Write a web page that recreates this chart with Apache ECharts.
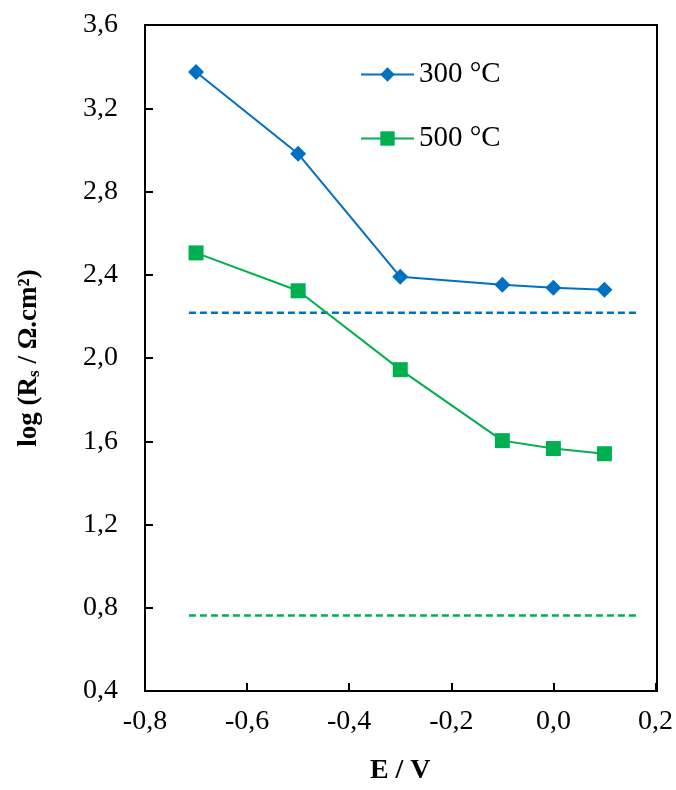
<!DOCTYPE html>
<html><head><meta charset="utf-8">
<script src="https://cdn.jsdelivr.net/npm/echarts@6/dist/echarts.min.js"></script>
<style>html,body{margin:0;padding:0;background:#fff}#c{width:676px;height:790px}</style>
</head><body><div id="c"></div>
<script>
const potentials = [-0.7, -0.5, -0.3, -0.1, 0.0, 0.1];
const logRs300 = [3.374, 2.981, 2.39, 2.352, 2.337, 2.328];
const logRs500 = [2.505, 2.323, 1.944, 1.603, 1.565, 1.540];
const refX = [-0.714, 0.163];
const ref300 = [2.217, 2.217];
const ref500 = [0.763, 0.763];
const seriesNames = ['300 °C', '500 °C'];
const blue = '#0070C0', green = '#00B050';
const font = '"Liberation Serif", "Times New Roman", serif';
const pairs = (xs, ys) => xs.map((x, i) => [x, ys[i]]);
const chart = echarts.init(document.getElementById('c'));
chart.setOption({
  animation: false,
  backgroundColor: '#fff',
  grid: {left: 145, top: 25, right: 19, bottom: 99},
  legend: {
    orient: 'vertical', left: 360, top: 60, padding: 0, itemGap: 35, itemWidth: 53, itemHeight: 18,
    textStyle: {fontFamily: font, fontSize: 29, color: '#000'},
    data: seriesNames
  },
  xAxis: {
    type: 'value', min: -0.8, max: 0.2, interval: 0.2,
    axisLine: {onZero: false, lineStyle: {color: '#000', width: 2}},
    axisTick: {inside: true, length: 8, lineStyle: {color: '#000', width: 2}},
    splitLine: {show: false},
    axisLabel: {fontFamily: font, fontSize: 28, color: '#000', margin: 17,
      formatter: v => v.toFixed(1).replace('.', ',')},
    name: 'E / V', nameLocation: 'middle', nameGap: 66,
    nameTextStyle: {fontFamily: font, fontSize: 28, fontWeight: 'bold', color: '#000'}
  },
  yAxis: {
    type: 'value', min: 0.4, max: 3.6, interval: 0.4,
    axisLine: {onZero: false, lineStyle: {color: '#000', width: 2}},
    axisTick: {inside: true, length: 8, lineStyle: {color: '#000', width: 2}},
    splitLine: {show: false},
    axisLabel: {fontFamily: font, fontSize: 28, color: '#000', margin: 27,
      formatter: v => v.toFixed(1).replace('.', ',')},
    name: '{b|log (R}{s|s}{b| / Ω.cm²)}', nameLocation: 'middle', nameGap: 102, nameRotate: 90,
    nameTextStyle: {
      rich: {
        b: {fontFamily: font, fontSize: 27, fontWeight: 'bold', color: '#000', lineHeight: 32, verticalAlign: 'bottom'},
        s: {fontFamily: font, fontSize: 17, fontWeight: 'bold', color: '#000', lineHeight: 24, verticalAlign: 'bottom'}
      }
    }
  },
  series: [
    {name: seriesNames[0], type: 'line', data: pairs(potentials, logRs300), symbol: 'diamond', symbolSize: 16,
      itemStyle: {color: blue}, lineStyle: {color: blue, width: 2}, z: 5},
    {name: seriesNames[1], type: 'line', data: pairs(potentials, logRs500), symbol: 'rect', symbolSize: 15,
      itemStyle: {color: green}, lineStyle: {color: green, width: 2}, z: 5},
    {type: 'line', data: pairs(refX, ref300), showSymbol: false, symbol: 'none', silent: true,
      lineStyle: {color: blue, width: 2.5, type: [7, 4]}},
    {type: 'line', data: pairs(refX, ref500), showSymbol: false, symbol: 'none', silent: true,
      lineStyle: {color: green, width: 2.5, type: [7, 4]}}
  ],
  graphic: [{type: 'rect', shape: {x: 145, y: 25, width: 512, height: 666}, style: {fill: 'none', stroke: '#000', lineWidth: 2}, silent: true, z: 10}]
});
</script></body></html>
